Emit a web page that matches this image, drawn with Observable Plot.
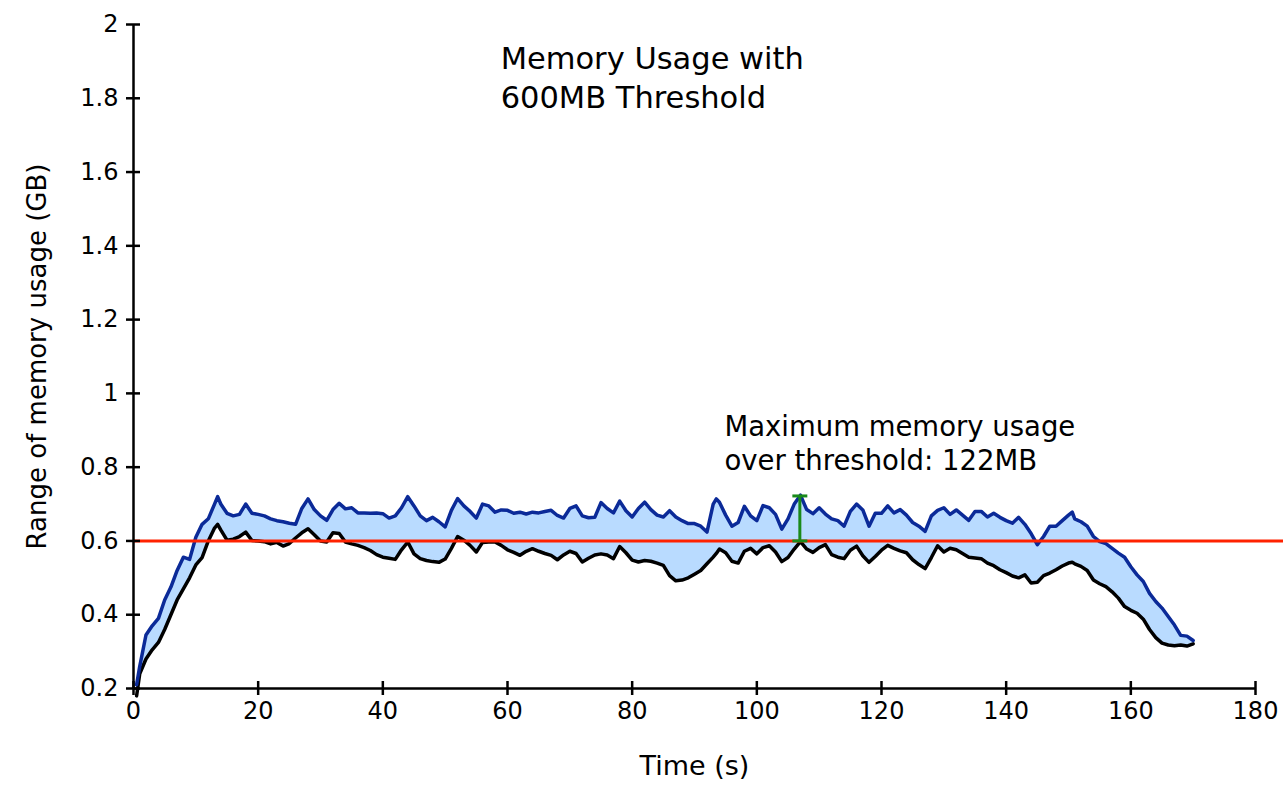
<!DOCTYPE html>
<html><head><meta charset="utf-8">
<script src="https://cdn.jsdelivr.net/npm/d3@7"></script>
<script src="https://cdn.jsdelivr.net/npm/@observablehq/plot@0.6"></script>
<style>body{margin:0;background:#fff;} #chart{width:1285px;height:787px}</style>
</head><body><div id="chart"></div>
<script>
// Time (s)
const time = [0.5,1,2,3,4,5,6,7,8,9,10,11,12,13,13.5,14,15,16,17,18,19,20,21,22,23,24,25,26,27,28,29,30,
  31,32,33,34,35,36,37,38,39,40,41,42,43,44,45,46,47,48,49,50,51,52,53,54,55,56,57,58,59,60,
  61,62,63,64,65,66,67,68,69,70,71,72,73,74,75,76,77,78,79,80,81,82,83,84,85,86,87,88,89,90,
  91,92,93,93.5,94,95,96,97,98,99,100,101,102,103,104,105,106,107,108,109,110,111,112,113,114,115,116,117,118,119,120,
  121,122,123,124,125,126,127,128,129,130,131,132,133,134,135,136,137,138,139,140,141,142,143,144,145,146,147,148,149,150,150.6,
  151,152,153,154,155,156,157,158,159,160,161,162,163,164,165,166,167,168,169,170];
// Upper bound of memory usage (GB)
const upper = [0.21,0.26,0.345,0.37,0.39,0.44,0.475,0.52,0.556,0.55,0.61,0.645,0.66,0.70,0.72,0.70,0.675,0.668,0.672,0.70,0.675,0.672,0.668,0.660,0.655,0.652,0.648,0.645,0.688,0.714,0.685,0.668,
  0.656,0.685,0.702,0.687,0.690,0.676,0.676,0.675,0.676,0.674,0.662,0.668,0.69,0.72,0.695,0.668,0.655,0.664,0.652,0.638,0.683,0.715,0.695,0.68,0.662,0.700,0.695,0.678,0.684,0.683,
  0.675,0.678,0.673,0.678,0.676,0.680,0.683,0.669,0.662,0.688,0.695,0.668,0.663,0.664,0.704,0.688,0.676,0.708,0.682,0.665,0.688,0.705,0.685,0.670,0.665,0.682,0.665,0.655,0.647,0.647,
  0.640,0.624,0.700,0.714,0.705,0.670,0.640,0.650,0.694,0.668,0.655,0.696,0.690,0.672,0.632,0.660,0.700,0.724,0.685,0.674,0.690,0.673,0.660,0.655,0.640,0.680,0.700,0.684,0.640,0.675,0.675,
  0.695,0.676,0.685,0.670,0.650,0.640,0.626,0.668,0.683,0.690,0.672,0.684,0.670,0.656,0.680,0.680,0.665,0.675,0.664,0.655,0.648,0.664,0.645,0.620,0.590,0.612,0.640,0.640,0.655,0.670,0.678,
  0.660,0.652,0.640,0.612,0.598,0.593,0.580,0.567,0.556,0.530,0.508,0.490,0.458,0.436,0.418,0.395,0.372,0.344,0.342,0.330];
// Lower bound of memory usage (GB)
const lower = [0.18,0.24,0.28,0.305,0.325,0.36,0.40,0.44,0.47,0.50,0.535,0.555,0.60,0.635,0.645,0.63,0.602,0.605,0.612,0.624,0.601,0.600,0.598,0.592,0.596,0.586,0.593,0.608,0.622,0.633,0.617,0.600,
  0.597,0.622,0.620,0.597,0.592,0.588,0.582,0.574,0.563,0.556,0.553,0.550,0.576,0.597,0.565,0.552,0.547,0.544,0.542,0.551,0.580,0.612,0.602,0.588,0.570,0.596,0.597,0.597,0.588,0.576,
  0.569,0.561,0.572,0.579,0.572,0.566,0.561,0.549,0.562,0.572,0.566,0.543,0.553,0.562,0.565,0.562,0.552,0.585,0.568,0.548,0.543,0.547,0.545,0.540,0.534,0.506,0.492,0.494,0.500,0.510,
  0.520,0.538,0.556,0.566,0.578,0.568,0.545,0.540,0.572,0.580,0.565,0.582,0.587,0.570,0.544,0.555,0.578,0.598,0.578,0.569,0.582,0.590,0.563,0.556,0.552,0.575,0.586,0.560,0.542,0.558,0.575,
  0.588,0.580,0.573,0.568,0.549,0.536,0.525,0.555,0.587,0.570,0.580,0.576,0.566,0.556,0.554,0.552,0.540,0.533,0.522,0.514,0.505,0.500,0.508,0.486,0.488,0.506,0.513,0.522,0.532,0.540,0.542,
  0.538,0.531,0.520,0.494,0.484,0.476,0.462,0.445,0.422,0.412,0.404,0.388,0.360,0.338,0.323,0.318,0.316,0.318,0.315,0.321];

const xTicks = [0,20,40,60,80,100,120,140,160,180];
const yTicks = [0.2,0.4,0.6,0.8,1,1.2,1.4,1.6,1.8,2];
const threshold = [0.6];
const peakTime = [106.9];
const peakRange = [0.6, 0.722];
const titleText = "Memory Usage with\n600MB Threshold";
const noteText = "Maximum memory usage\nover threshold: 122MB";
const xLabel = "Time (s)";
const yLabel = "Range of memory usage (GB)";

const rows = time.map((t, i) => ({t, u: upper[i], l: lower[i]}));
const caps = peakRange.map(v => ({x1: peakTime[0] - 1.2, x2: peakTime[0] + 1.2, y: v}));

const W = 1285, H = 787, mL = 133, mR = 30, mT = 24, mB = 99;
const fw = W - mL - mR, fh = H - mT - mB;
const fmt = d => String(+(+d).toFixed(1));

const chart = Plot.plot({
  width: W, height: H,
  marginLeft: mL, marginRight: mR, marginTop: mT, marginBottom: mB,
  style: {fontFamily: "DejaVu Sans, sans-serif", fontSize: "24px", color: "#000", background: "#fff"},
  x: {domain: [0, 180], axis: null},
  y: {domain: [0.2, 2], axis: null},
  marks: [
    Plot.areaY(rows, {x: "t", y1: "l", y2: "u", fill: "#b9dbff"}),
    Plot.line(rows, {x: "t", y: "l", stroke: "#000", strokeWidth: 3.5}),
    Plot.line(rows, {x: "t", y: "u", stroke: "#0b2a98", strokeWidth: 3.5}),
    Plot.ruleY(threshold, {stroke: "#ff2200", strokeWidth: 3, insetRight: -28}),
    Plot.ruleX([0], {stroke: "#000", strokeWidth: 2.5}),
    Plot.ruleY([0.2], {stroke: "#000", strokeWidth: 2.5}),
    Plot.axisX({ticks: xTicks, tickSize: 7, tickPadding: 6, tickFormat: fmt, label: null, strokeWidth: 2.5, fontSize: 24}),
    Plot.axisY({ticks: yTicks, tickSize: 7, tickPadding: 8, tickFormat: fmt, label: null, strokeWidth: 2.5, fontSize: 24}),
    Plot.tickX(xTicks, {x: d => d, insetTop: fh - 7, stroke: "#000", strokeWidth: 2.5}),
    Plot.tickY(yTicks, {y: d => d, insetRight: fw - 7, stroke: "#000", strokeWidth: 2.5}),
    Plot.ruleX(peakTime, {y1: peakRange[0], y2: peakRange[1], stroke: "#1a8a1a", strokeWidth: 3}),
    Plot.link(caps, {x1: "x1", x2: "x2", y1: "y", y2: "y", stroke: "#1a8a1a", strokeWidth: 3}),
    Plot.text([titleText], {x: 58.9, y: 1.954, text: d => d, textAnchor: "start", lineAnchor: "top", lineHeight: 1.28, fontSize: 30.5}),
    Plot.text([noteText], {x: 94.8, y: 0.95, text: d => d, textAnchor: "start", lineAnchor: "top", lineHeight: 1.23, fontSize: 27.5}),
    Plot.text([xLabel], {frameAnchor: "bottom", dy: 86, text: d => d, fontSize: 27}),
    Plot.text([yLabel], {frameAnchor: "left", dx: -96, rotate: -90, textAnchor: "middle", text: d => d, fontSize: 26})
  ]
});
document.getElementById("chart").appendChild(chart);
</script>
</body></html>
